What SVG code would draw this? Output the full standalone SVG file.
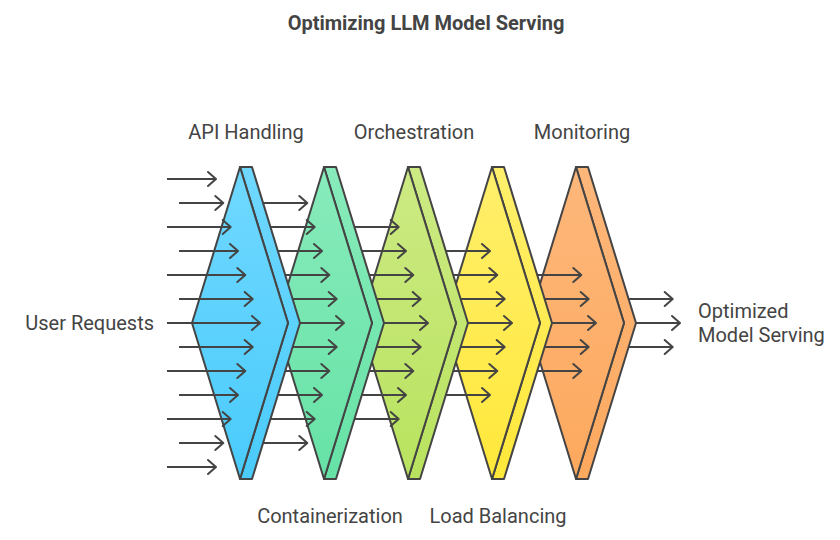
<svg xmlns="http://www.w3.org/2000/svg" width="840" height="540" viewBox="0 0 840 540">
<defs>
<linearGradient id="gBlue" x1="0" y1="0" x2="0" y2="1"><stop offset="0" stop-color="#70D8FF"/><stop offset="1" stop-color="#4ACBFB"/></linearGradient>
<linearGradient id="gGreen" x1="0" y1="0" x2="0" y2="1"><stop offset="0" stop-color="#88EBBB"/><stop offset="1" stop-color="#66E2A6"/></linearGradient>
<linearGradient id="gLime" x1="0" y1="0" x2="0" y2="1"><stop offset="0" stop-color="#CDEA84"/><stop offset="1" stop-color="#B8E35E"/></linearGradient>
<linearGradient id="gYellow" x1="0" y1="0" x2="0" y2="1"><stop offset="0" stop-color="#FFEF6C"/><stop offset="1" stop-color="#FFE83A"/></linearGradient>
<linearGradient id="gOrange" x1="0" y1="0" x2="0" y2="1"><stop offset="0" stop-color="#FDB77B"/><stop offset="1" stop-color="#FDA95E"/></linearGradient>
<marker id="ah" markerUnits="userSpaceOnUse" markerWidth="12" markerHeight="18" viewBox="-10 -9 12 18" refX="0" refY="0" orient="auto" overflow="visible">
<path d="M-8,-7 L0,0 L-8,7" fill="none" stroke="#444" stroke-width="2" stroke-linejoin="round" stroke-linecap="round"/>
</marker>
<style>
.sh{stroke:#444;stroke-width:2;stroke-linejoin:round}
.t{font-family:Roboto,"Liberation Sans",sans-serif;font-size:20px;fill:#444}
.title{font-family:Roboto,"Liberation Sans",sans-serif;font-size:20px;font-weight:bold;fill:#444}
#conn line{stroke:#444;stroke-width:2;marker-end:url(#ah)}
</style>
</defs>
<rect width="840" height="540" fill="#fff"/>
<text class="title" x="426" y="30" text-anchor="middle">Optimizing LLM Model Serving</text>

<g id="stage-monitoring">
<polygon class="sh" fill="url(#gOrange)" points="576,167 588,167 636,323 588,479 576,479 624,323"/>
<polygon class="sh" fill="url(#gOrange)" points="576,167 624,323 576,479 528,323"/>
<text class="t" x="582" y="139" text-anchor="middle">Monitoring</text>
</g>
<g id="stage-load-balancing">
<polygon class="sh" fill="url(#gYellow)" points="492,167 504,167 552,323 504,479 492,479 540,323"/>
<polygon class="sh" fill="url(#gYellow)" points="492,167 540,323 492,479 444,323"/>
<text class="t" x="498" y="523" text-anchor="middle">Load Balancing</text>
</g>
<g id="stage-orchestration">
<polygon class="sh" fill="url(#gLime)" points="408,167 420,167 468,323 420,479 408,479 456,323"/>
<polygon class="sh" fill="url(#gLime)" points="408,167 456,323 408,479 360,323"/>
<text class="t" x="414" y="139" text-anchor="middle">Orchestration</text>
</g>
<g id="stage-containerization">
<polygon class="sh" fill="url(#gGreen)" points="324,167 336,167 384,323 336,479 324,479 372,323"/>
<polygon class="sh" fill="url(#gGreen)" points="324,167 372,323 324,479 276,323"/>
<text class="t" x="330" y="523" text-anchor="middle">Containerization</text>
</g>
<g id="stage-api">
<polygon class="sh" fill="url(#gBlue)" points="240,167 252,167 300,323 252,479 240,479 288,323"/>
<polygon class="sh" fill="url(#gBlue)" points="240,167 288,323 240,479 192,323"/>
<text class="t" x="246" y="139" text-anchor="middle">API Handling</text>
</g>
<g id="input">
<text class="t" x="154" y="330" text-anchor="end">User Requests</text>
</g>
<g id="output">
<text class="t" x="698" y="318">Optimized</text>
<text class="t" x="698" y="342">Model Serving</text>
</g>

<g id="conn">
<line x1="167" y1="179" x2="216" y2="179"/>
<line x1="179" y1="203" x2="223.3" y2="203"/>
<line x1="167" y1="227" x2="230.7" y2="227"/>
<line x1="179" y1="251" x2="238" y2="251"/>
<line x1="167" y1="275" x2="245.3" y2="275"/>
<line x1="179" y1="299" x2="252.7" y2="299"/>
<line x1="167" y1="323" x2="260" y2="323"/>
<line x1="179" y1="347" x2="252.7" y2="347"/>
<line x1="167" y1="371" x2="245.3" y2="371"/>
<line x1="179" y1="395" x2="238" y2="395"/>
<line x1="167" y1="419" x2="230.7" y2="419"/>
<line x1="179" y1="443" x2="223.3" y2="443"/>
<line x1="167" y1="467" x2="216" y2="467"/>

<line x1="263" y1="203" x2="307.3" y2="203"/>
<line x1="270.7" y1="227" x2="314.7" y2="227"/>
<line x1="278" y1="251" x2="322" y2="251"/>
<line x1="285.3" y1="275" x2="329.3" y2="275"/>
<line x1="292.7" y1="299" x2="336.7" y2="299"/>
<line x1="300" y1="323" x2="344" y2="323"/>
<line x1="292.7" y1="347" x2="336.7" y2="347"/>
<line x1="285.3" y1="371" x2="329.3" y2="371"/>
<line x1="278" y1="395" x2="322" y2="395"/>
<line x1="270.7" y1="419" x2="314.7" y2="419"/>
<line x1="263" y1="443" x2="307.3" y2="443"/>

<line x1="354.7" y1="227" x2="398.7" y2="227"/>
<line x1="362" y1="251" x2="406" y2="251"/>
<line x1="369.3" y1="275" x2="413.3" y2="275"/>
<line x1="376.7" y1="299" x2="420.7" y2="299"/>
<line x1="384" y1="323" x2="428" y2="323"/>
<line x1="376.7" y1="347" x2="420.7" y2="347"/>
<line x1="369.3" y1="371" x2="413.3" y2="371"/>
<line x1="362" y1="395" x2="406" y2="395"/>
<line x1="354.7" y1="419" x2="398.7" y2="419"/>

<line x1="446" y1="251" x2="490" y2="251"/>
<line x1="453.3" y1="275" x2="497.3" y2="275"/>
<line x1="460.7" y1="299" x2="504.7" y2="299"/>
<line x1="468" y1="323" x2="512" y2="323"/>
<line x1="460.7" y1="347" x2="504.7" y2="347"/>
<line x1="453.3" y1="371" x2="497.3" y2="371"/>
<line x1="446" y1="395" x2="490" y2="395"/>

<line x1="537.3" y1="275" x2="581.3" y2="275"/>
<line x1="544.7" y1="299" x2="588.7" y2="299"/>
<line x1="552" y1="323" x2="596" y2="323"/>
<line x1="544.7" y1="347" x2="588.7" y2="347"/>
<line x1="537.3" y1="371" x2="581.3" y2="371"/>

<line x1="628.7" y1="299" x2="672.7" y2="299"/>
<line x1="636" y1="323" x2="680" y2="323"/>
<line x1="628.7" y1="347" x2="672.7" y2="347"/>
</g>
</svg>
